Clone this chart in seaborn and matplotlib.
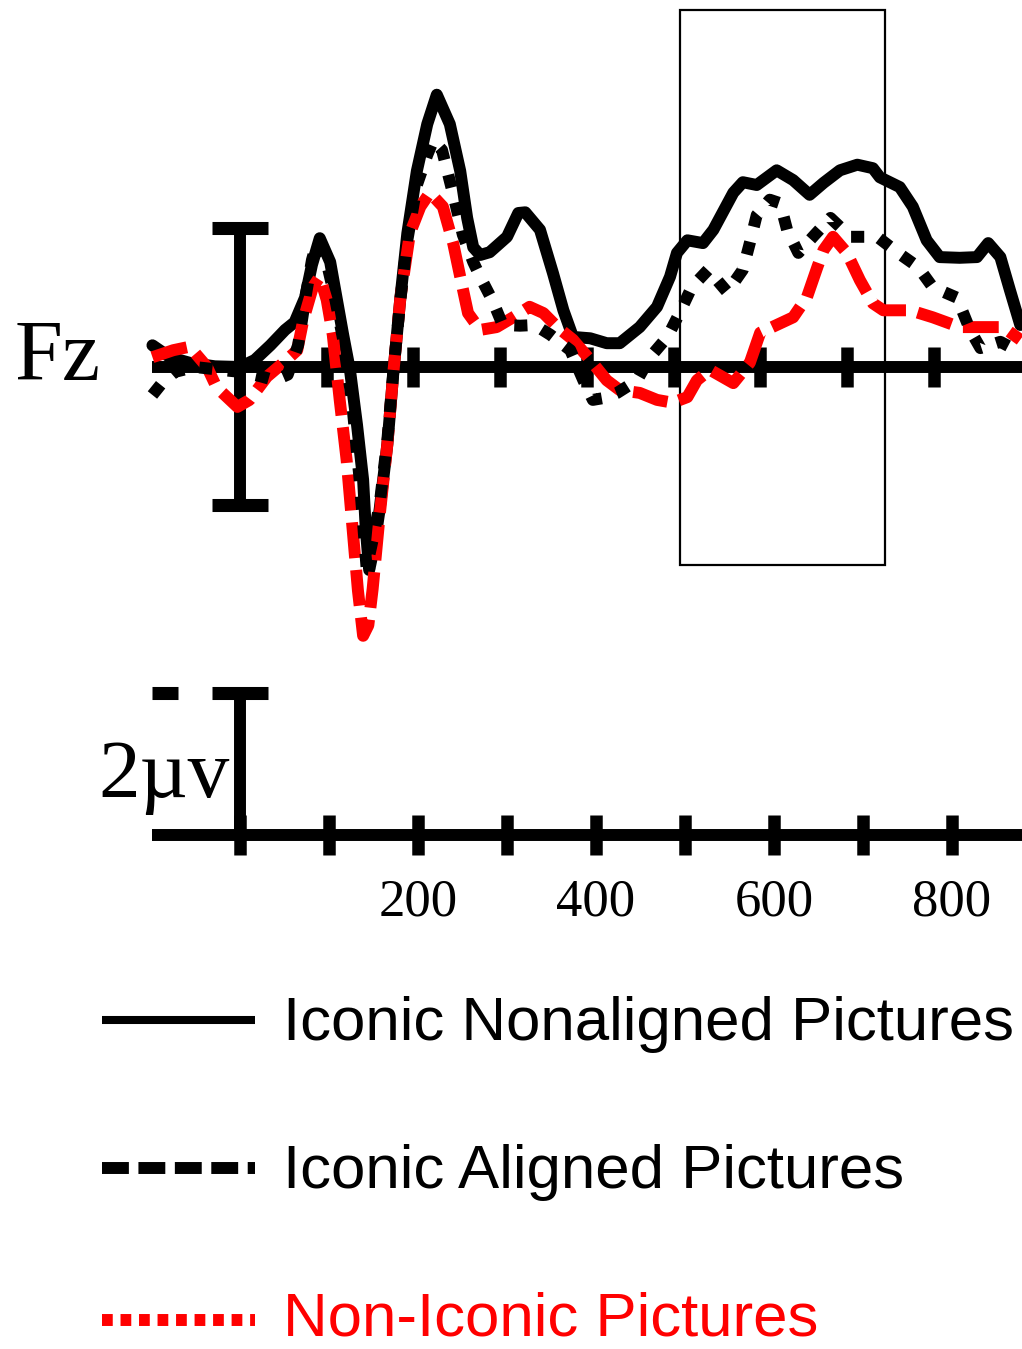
import matplotlib
matplotlib.use('Agg')
import matplotlib.pyplot as plt
import seaborn as sns
import pandas as pd

# Fz waveforms: time in ms, amplitude in microvolts
nonaligned_ms = [-101, -81, -58, -29, 0, 17, 35, 52, 63, 75, 83, 92, 104, 119, 127,
                 135, 142, 145, 149, 155, 161, 170, 177, 185, 193, 204, 216, 227, 242, 254,
                 262, 269, 277, 288, 308, 321, 329, 346, 361, 373, 384, 404, 423, 438, 461,
                 481, 496, 504, 516, 534, 546, 569, 580, 596, 619, 638, 657, 673, 692, 712,
                 730, 738, 761, 776, 792, 807, 830, 850, 863, 877, 888, 900]
nonaligned_uv = [0.31, 0.14, 0.06, 0.01, 0.0, 0.10, 0.31, 0.53, 0.64, 0.99, 1.46, 1.84, 1.50, 0.46, -0.06,
                 -0.83, -1.61, -2.30, -2.90, -2.55, -2.04, -1.10, -0.06, 0.99, 1.91, 2.80, 3.47, 3.89, 3.47, 2.80,
                 2.13, 1.71, 1.60, 1.64, 1.86, 2.20, 2.21, 1.96, 1.34, 0.81, 0.43, 0.41, 0.34, 0.34, 0.57,
                 0.86, 1.29, 1.63, 1.81, 1.77, 1.96, 2.49, 2.64, 2.60, 2.81, 2.67, 2.46, 2.63, 2.81, 2.89,
                 2.84, 2.71, 2.57, 2.29, 1.81, 1.57, 1.56, 1.57, 1.77, 1.57, 1.10, 0.60]

aligned_ms = [-101, -90, -75, -52, -23, 0, 23, 40, 55, 67, 76, 83, 89, 98, 110,
              119, 129, 138, 146, 153, 161, 170, 177, 185, 193, 204, 216, 223, 233, 246,
              257, 269, 277, 292, 303, 323, 340, 358, 381, 396, 407, 421, 435, 458, 473,
              493, 507, 521, 540, 562, 580, 588, 596, 611, 623, 631, 644, 663, 681, 704,
              735, 758, 782, 799, 827, 842, 854, 877, 900]
aligned_uv = [-0.40, -0.23, -0.07, 0.0, -0.04, -0.07, -0.13, -0.19, -0.11, 0.31, 1.03, 1.53, 1.79, 1.60, 0.96,
              0.39, -0.47, -1.61, -2.87, -2.47, -1.97, -1.04, -0.04, 0.96, 1.81, 2.60, 3.03, 3.24, 3.10, 2.46,
              1.89, 1.50, 1.29, 0.93, 0.60, 0.59, 0.60, 0.46, 0.24, -0.19, -0.47, -0.44, -0.37, -0.19, 0.14,
              0.43, 0.77, 1.14, 1.39, 1.07, 1.39, 1.77, 2.17, 2.39, 2.34, 1.96, 1.63, 1.89, 2.13, 1.86,
              1.86, 1.64, 1.43, 1.14, 0.99, 0.53, 0.27, 0.36, 0.21]

noniconic_ms = [-101, -77, -58, -38, -27, -3, 11, 31, 50, 66, 73, 84, 92, 100, 107,
                115, 123, 130, 136, 142, 148, 153, 161, 170, 177, 185, 196, 208, 219, 234,
                246, 254, 263, 277, 296, 315, 334, 350, 366, 384, 404, 423, 438, 461, 481,
                499, 516, 527, 542, 569, 588, 600, 619, 638, 654, 666, 673, 684, 700, 715,
                730, 742, 773, 799, 830, 862, 880, 900]
noniconic_uv = [0.14, 0.24, 0.29, 0.0, -0.29, -0.57, -0.47, -0.14, 0.06, 0.24, 0.67, 1.14, 1.29, 0.96, 0.46,
                -0.47, -1.33, -2.33, -3.19, -3.84, -3.69, -3.17, -2.13, -1.10, -0.06, 0.99, 1.91, 2.29, 2.49, 2.29,
                1.76, 1.29, 0.77, 0.53, 0.57, 0.71, 0.86, 0.77, 0.57, 0.39, 0.10, -0.19, -0.33, -0.37, -0.47,
                -0.51, -0.43, -0.19, -0.04, -0.23, 0.06, 0.49, 0.60, 0.71, 1.00, 1.43, 1.67, 1.86, 1.63, 1.24,
                0.91, 0.81, 0.81, 0.71, 0.57, 0.57, 0.57, 0.39]

conditions = ['Iconic Nonaligned Pictures', 'Iconic Aligned Pictures', 'Non-Iconic Pictures']
tick_ms = [100, 200, 300, 400, 500, 600, 700, 800]
scale_ticks_ms = [0, 100, 200, 300, 400, 500, 600, 700, 800]
scale_labels_ms = [200, 400, 600, 800]
window_ms = [507, 744]
window_uv = [-2.83, 5.1]

df = pd.concat([
    pd.DataFrame({'ms': nonaligned_ms, 'uv': nonaligned_uv, 'condition': conditions[0]}),
    pd.DataFrame({'ms': noniconic_ms, 'uv': noniconic_uv, 'condition': conditions[2]}),
    pd.DataFrame({'ms': aligned_ms, 'uv': aligned_uv, 'condition': conditions[1]}),
])

sns.set_style('white')
W, H = 1022, 1349
fig = plt.figure(figsize=(W / 100, H / 100), dpi=100)

# main waveform panel
ax = fig.add_axes([0, 1 - 660 / H, 1, 660 / H])

ax.plot([-101.5, 905], [0, 0], color='k', lw=8.6, solid_capstyle='butt', zorder=1)
ax.plot(tick_ms, [0] * len(tick_ms), ls='none', marker='|', ms=29, mew=9, color='k', zorder=1)
ax.plot([0, 0], [-1.97, 1.99], color='k', lw=8.6, solid_capstyle='butt', zorder=1)
for y in [-1.97, 1.99]:
    ax.plot([-32, 32], [y, y], color='k', lw=9.4, solid_capstyle='butt', zorder=1)

ax.add_patch(plt.Rectangle((window_ms[0], window_uv[0]), window_ms[1] - window_ms[0],
                           window_uv[1] - window_uv[0], fill=False, ec='k', lw=1.6, zorder=2))

sns.lineplot(data=df, x='ms', y='uv', hue='condition', style='condition',
             hue_order=[conditions[0], conditions[2], conditions[1]],
             style_order=[conditions[0], conditions[2], conditions[1]],
             palette={conditions[0]: 'black', conditions[1]: 'black', conditions[2]: '#ff0000'},
             dashes={conditions[0]: '', conditions[1]: (1.1, 1.3), conditions[2]: (3.0, 1.0)},
             estimator=None, sort=False, lw=8.6, legend=False, ax=ax, zorder=3,
             solid_joinstyle='round', dash_joinstyle='round')
ax.set_xlim(-240 / 0.867, (W - 240) / 0.867)
ax.set_ylim((367 - 660) / 70, 367 / 70)
ax.axis('off')

# calibration axis
ax2 = fig.add_axes([0, 1 - 940 / H, 1, 280 / H])
ax2.set_xlim(-240 / 0.89, (W - 240) / 0.89)
ax2.set_ylim((835 - 940) / 71, (835 - 660) / 71)
ax2.axis('off')
ax2.plot([-98.9, 880], [0, 0], color='k', lw=8.6, solid_capstyle='butt')
ax2.plot(scale_ticks_ms, [0] * len(scale_ticks_ms), ls='none', marker='|', ms=29, mew=9, color='k')
ax2.plot([0, 0], [0, 2.0], color='k', lw=8.6, solid_capstyle='butt')
ax2.plot([-31.5, 31.5], [2.0, 2.0], color='k', lw=9.4, solid_capstyle='butt')
ax2.plot([-98.9, -69.7], [2.0, 2.0], color='k', lw=9.4, solid_capstyle='butt')
for v in scale_labels_ms:
    ax2.text(v, (835 - 903) / 71, str(v), ha='center', va='center',
             family='Liberation Serif', fontsize=38, color='black')

# overlay for text and legend
ov = fig.add_axes([0, 0, 1, 1])
ov.set_xlim(0, W)
ov.set_ylim(H, 0)
ov.axis('off')
ov.patch.set_alpha(0)
ov.text(15, 380, 'Fz', ha='left', va='baseline', family='Liberation Serif', fontsize=62, color='black')
ov.text(98, 797, '2\u00b5v', ha='left', va='baseline', family='Liberation Serif', fontsize=60, color='black')

rows = [1020, 1168, 1316]
ov.plot([102, 255], [1020] * 2, color='k', lw=5.8, solid_capstyle='butt')
ov.plot([102, 255], [1168] * 2, color='k', lw=8.6, ls=(0, (2.25, 0.8)))
ov.plot([102, 255], [1320] * 2, color='#ff0000', lw=8.6, ls=(0, (0.9, 0.65)))
text_colors = ['black', 'black', '#ff0000']
for r, lab, c in zip(rows, conditions, text_colors):
    ov.text(283, r + 20, lab, ha='left', va='baseline', family='Liberation Sans',
            fontsize=44.5, color=c)

fig.savefig('out.png', dpi=100)
